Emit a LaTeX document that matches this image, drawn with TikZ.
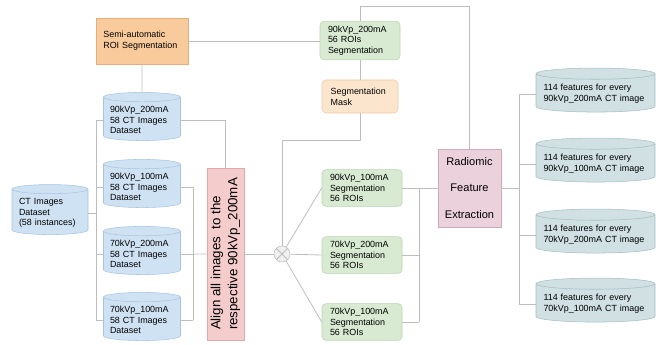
\documentclass[tikz,border=0pt]{standalone}
\usepackage{fontspec}
\setmainfont{Liberation Sans}
\usetikzlibrary{shapes.geometric}
\definecolor{linegray}{HTML}{BDBDBD}
\definecolor{roifill}{HTML}{F9CB9C}
\definecolor{roiline}{HTML}{E3AE7C}
\definecolor{dbfill}{HTML}{CFE2F3}
\definecolor{dbline}{HTML}{A9C4DE}
\definecolor{alignfill}{HTML}{F4CCCC}
\definecolor{alignline}{HTML}{E0A8A8}
\definecolor{segfill}{HTML}{D9EAD3}
\definecolor{segline}{HTML}{B9D3AE}
\definecolor{maskfill}{HTML}{FCE5CD}
\definecolor{maskline}{HTML}{EDC9A4}
\definecolor{rfefill}{HTML}{EAD1DC}
\definecolor{rfeline}{HTML}{CFA8BA}
\definecolor{featfill}{HTML}{D0E0E3}
\definecolor{featline}{HTML}{A5BFC4}

\begin{document}
\begin{tikzpicture}[x=0.75pt, y=-0.75pt,
    conn/.style={draw=linegray, line width=0.6pt},
    small/.style={font=\fontsize{6.7}{8}\selectfont},
    dbcyl/.style={cylinder, shape border rotate=90, aspect=0.13, small, align=left,
        text width=48pt, inner sep=3pt, minimum width=57.75pt, minimum height=36pt,
        fill=dbfill, draw=dbline},
    featcyl/.style={dbcyl, aspect=0.1, text width=78pt, minimum width=89.25pt, minimum height=33pt,
        fill=featfill, draw=featline},
    segbox/.style={rectangle, rounded corners=3pt, small, align=left, text width=48pt,
        minimum width=60pt, minimum height=27pt, fill=segfill, draw=segline}]
    \useasboundingbox (0,0) rectangle (659,345);

    \node[rectangle, small, align=left, text width=58pt, minimum width=69pt, minimum height=34.5pt,
        fill=roifill, draw=roiline] (roi) at (142,41) {Semi-automatic\\ROI Segmentation};
    \node[dbcyl] (d1) at (142,120) {90kVp\_200mA\\58 CT Images\\Dataset};
    \node[dbcyl] (d2) at (142,187) {90kVp\_100mA\\58 CT Images\\Dataset};
    \node[dbcyl] (d3) at (142,254) {70kVp\_200mA\\58 CT Images\\Dataset};
    \node[dbcyl] (d4) at (142,320) {70kVp\_100mA\\58 CT Images\\Dataset};
    \node[dbcyl, text width=46.5pt, minimum width=57pt, minimum height=37.5pt] (ct) at (50,213)
        {CT Images\\Dataset\\(58 instances)};

    \node[rectangle, minimum width=27.75pt, minimum height=129pt, fill=alignfill, draw=alignline]
        (alignbox) at (225.5,254) {};
    \node[rotate=90, align=left, font=\fontsize{10}{12.75}\selectfont] (aligntext) at (alignbox)
        {Align all images~ to the\\respective 90kVp\_200mA};

    \node[circle, minimum size=12pt, inner sep=0pt, fill=gray!12, draw=linegray] (cross) at (282,254) {};
    \draw[conn] (cross.north west) -- (cross.south east) (cross.north east) -- (cross.south west);

    \node[segbox] (seg1) at (360,40.5) {90kVp\_200mA\\56 ROIs\\Segmentation};
    \node[segbox, text width=44pt, minimum width=57pt, minimum height=24.75pt, fill=maskfill,
        draw=maskline] (mask) at (360,96.5) {Segmentation\\Mask};
    \node[segbox] (seg2) at (362,188) {90kVp\_100mA\\Segmentation\\56 ROIs};
    \node[segbox] (seg3) at (362,255) {70kVp\_200mA\\Segmentation\\56 ROIs};
    \node[segbox] (seg4) at (362,322) {70kVp\_100mA\\Segmentation\\56 ROIs};

    \node[rectangle, align=center, font=\fontsize{8.3}{20}\selectfont, minimum width=47.25pt,
        minimum height=58.5pt, fill=rfefill, draw=rfeline] (rfe) at (469.5,188)
        {Radiomic\\Feature\\Extraction};

    \node[featcyl] (f1) at (595.5,94) {114 features for every\\90kVp\_200mA CT image};
    \node[featcyl] (f2) at (595.5,164) {114 features for every\\90kVp\_100mA CT image};
    \node[featcyl] (f3) at (595.5,235) {114 features for every\\70kVp\_200mA CT image};
    \node[featcyl] (f4) at (595.5,304) {114 features for every\\70kVp\_100mA CT image};

    \coordinate (lb) at (96,0);
    \coordinate (rb) at (193,0);
    \coordinate (gb) at (419,0);
    \coordinate (fb) at (519,0);
    \coordinate (topjoin) at (360,6);
    \coordinate (maskjoin) at (282,140);

    \draw[conn] (roi.east) -- (roi.east -| seg1.west);
    \draw[conn] (roi.south) -- (d1.north);
    \draw[conn] (ct.east) -- (ct.east -| lb);
    \draw[conn] (d1.west -| lb) -- (d4.west -| lb);
    \draw[conn] (d1.west -| lb) -- (d1.west);
    \draw[conn] (d2.west -| lb) -- (d2.west);
    \draw[conn] (d3.west -| lb) -- (d3.west);
    \draw[conn] (d4.west -| lb) -- (d4.west);
    \draw[conn] (d1.east) -| (alignbox.north);
    \draw[conn] (d2.east -| rb) -- (d4.east -| rb);
    \draw[conn] (d2.east) -- (d2.east -| rb);
    \draw[conn] (d3.east) -- (d3.east -| rb);
    \draw[conn] (d4.east) -- (d4.east -| rb);
    \draw[conn] (d3.east -| rb) -- (alignbox.west);
    \draw[conn] (alignbox.east) -- (cross.west);
    \draw[conn] (cross.north) -- (maskjoin) -| (mask.south);
    \draw[conn] (seg1.south) -- (mask.north);
    \draw[conn] (seg1.north) -- (topjoin) -| (rfe.north);
    \draw[conn] (cross) -- (seg2.west);
    \draw[conn] (cross) -- (seg3.west);
    \draw[conn] (cross) -- (seg4.west);
    \draw[conn] (seg2.east -| gb) -- (seg4.east -| gb);
    \draw[conn] (seg2.east) -- (seg2.east -| gb);
    \draw[conn] (seg3.east) -- (seg3.east -| gb);
    \draw[conn] (seg4.east) -- (seg4.east -| gb);
    \draw[conn] (seg2.east -| gb) -- (rfe.west);
    \draw[conn] (rfe.east) -- (rfe.east -| fb);
    \draw[conn] (f1.west -| fb) -- (f4.west -| fb);
    \draw[conn] (f1.west -| fb) -- (f1.west);
    \draw[conn] (f2.west -| fb) -- (f2.west);
    \draw[conn] (f3.west -| fb) -- (f3.west);
    \draw[conn] (f4.west -| fb) -- (f4.west);
\end{tikzpicture}
\end{document}
